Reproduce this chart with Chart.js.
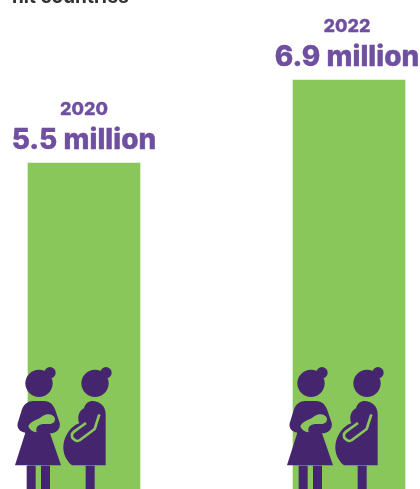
<!DOCTYPE html>
<html lang="en">
<head>
<meta charset="UTF-8" />
<title>Pregnant and breastfeeding women</title>
<script src="https://cdn.jsdelivr.net/npm/chart.js@4.4.4/dist/chart.umd.min.js"></script>
<style>
  html, body { margin: 0; padding: 0; background: #fff; overflow: hidden; }
  #wrap { position: relative; width: 420px; height: 489px; }
</style>
</head>
<body>
<div id="wrap"><canvas id="chart"></canvas></div>
<script>
const years = ['2020', '2022']
const millions = [5.5, 6.9]
const valueLabels = ['5.5 million', '6.9 million']
const headline = 'hit countries'

const GREEN = '#8ac75a'
const PURPLE = '#6f4fa0'
const DARK = '#46256f'

function disc(ctx, x, y, r) {
  ctx.beginPath()
  ctx.arc(x, y, r, 0, Math.PI * 2)
  ctx.fill()
}

// both figures are outlined on a 3x grid, see drawFigures
function drawMother(ctx) {
  ctx.fillStyle = DARK
  disc(ctx, 117, 70, 41)
  disc(ctx, 150, 38, 17)
  ctx.beginPath()
  ctx.moveTo(45, 316)
  ctx.lineTo(76, 218)
  ctx.bezierCurveTo(60, 216, 50, 205, 53, 190)
  ctx.lineTo(66, 148)
  ctx.bezierCurveTo(72, 132, 84, 123, 100, 123)
  ctx.lineTo(132, 123)
  ctx.bezierCurveTo(150, 123, 160, 135, 165, 148)
  ctx.lineTo(179, 188)
  ctx.bezierCurveTo(183, 205, 170, 220, 150, 220)
  ctx.lineTo(183, 316)
  ctx.closePath()
  ctx.fill()
  ctx.fillRect(80, 317, 27, 70)
  ctx.fillRect(123, 317, 27, 70)
  // baby held in the arm
  ctx.fillStyle = GREEN
  ctx.beginPath()
  ctx.moveTo(85, 198)
  ctx.bezierCurveTo(95, 180, 115, 180, 128, 168)
  ctx.bezierCurveTo(142, 158, 162, 162, 165, 176)
  ctx.bezierCurveTo(166, 190, 152, 193, 140, 192)
  ctx.bezierCurveTo(122, 190, 104, 196, 110, 217)
  ctx.bezierCurveTo(98, 216, 88, 208, 85, 198)
  ctx.closePath()
  ctx.fill()
}

function drawPregnant(ctx) {
  ctx.fillStyle = DARK
  disc(ctx, 285, 70, 41)
  disc(ctx, 318, 38, 17)
  ctx.beginPath()
  ctx.moveTo(317, 316)
  ctx.lineTo(317, 162)
  ctx.bezierCurveTo(317, 138, 298, 123, 278, 123)
  ctx.bezierCurveTo(266, 123, 256, 130, 252, 145)
  ctx.bezierCurveTo(238, 150, 230, 172, 238, 190)
  ctx.bezierCurveTo(205, 200, 178, 250, 196, 290)
  ctx.bezierCurveTo(202, 302, 208, 310, 216, 316)
  ctx.closePath()
  ctx.fill()
  ctx.fillRect(257, 317, 27, 70)
  // arm resting on the belly
  ctx.strokeStyle = GREEN
  ctx.lineWidth = 8
  ctx.lineCap = 'butt'
  ctx.lineJoin = 'round'
  ctx.beginPath()
  ctx.moveTo(298, 163)
  ctx.lineTo(284, 207)
  ctx.lineTo(240, 240)
  ctx.bezierCurveTo(226, 250, 205, 228, 222, 215)
  ctx.lineTo(258, 189)
  ctx.stroke()
}

function drawFigures(ctx, left, top) {
  ctx.save()
  ctx.translate(left, top)
  ctx.scale(1 / 3, 1 / 3)
  drawMother(ctx)
  drawPregnant(ctx)
  ctx.restore()
}

const overlay = {
  id: 'overlay',
  afterDatasetsDraw(chart) {
    const ctx = chart.ctx
    const bars = chart.getDatasetMeta(0).data
    ctx.save()
    ctx.textAlign = 'center'
    ctx.textBaseline = 'alphabetic'
    ctx.lineJoin = 'round'
    bars.forEach((bar, i) => {
      const cx = bar.x - i * 2
      ctx.fillStyle = PURPLE
      ctx.strokeStyle = PURPLE
      ctx.lineWidth = 0.3
      ctx.font = '800 18px Inter'
      ctx.fillText(years[i], cx, bar.y - 48)
      ctx.strokeText(years[i], cx, bar.y - 48)
      ctx.lineWidth = 0.4
      ctx.font = '800 28px Inter'
      ctx.fillText(valueLabels[i], cx, bar.y - 14)
      ctx.strokeText(valueLabels[i], cx, bar.y - 14)
      drawFigures(ctx, i * 272, 360)
    })
    ctx.fillStyle = '#333333'
    ctx.font = 'bold 19px Inter'
    ctx.textAlign = 'left'
    ctx.fillText(headline, 12, 3)
    ctx.restore()
  }
}

new Chart(document.getElementById('chart'), {
  type: 'bar',
  data: {
    labels: years,
    datasets: [{
      data: millions,
      backgroundColor: GREEN,
      borderWidth: 0,
      barThickness: 112,
      clip: false,
    }],
  },
  options: {
    responsive: true,
    maintainAspectRatio: false,
    animation: false,
    layout: { padding: { left: 84, right: 71, top: 0, bottom: 0 } },
    scales: {
      x: { display: false, offset: false },
      y: { display: false, min: 0, max: 8.25 },
    },
    plugins: { legend: { display: false }, tooltip: { enabled: false } },
  },
  plugins: [overlay],
})
</script>
</body>
</html>
